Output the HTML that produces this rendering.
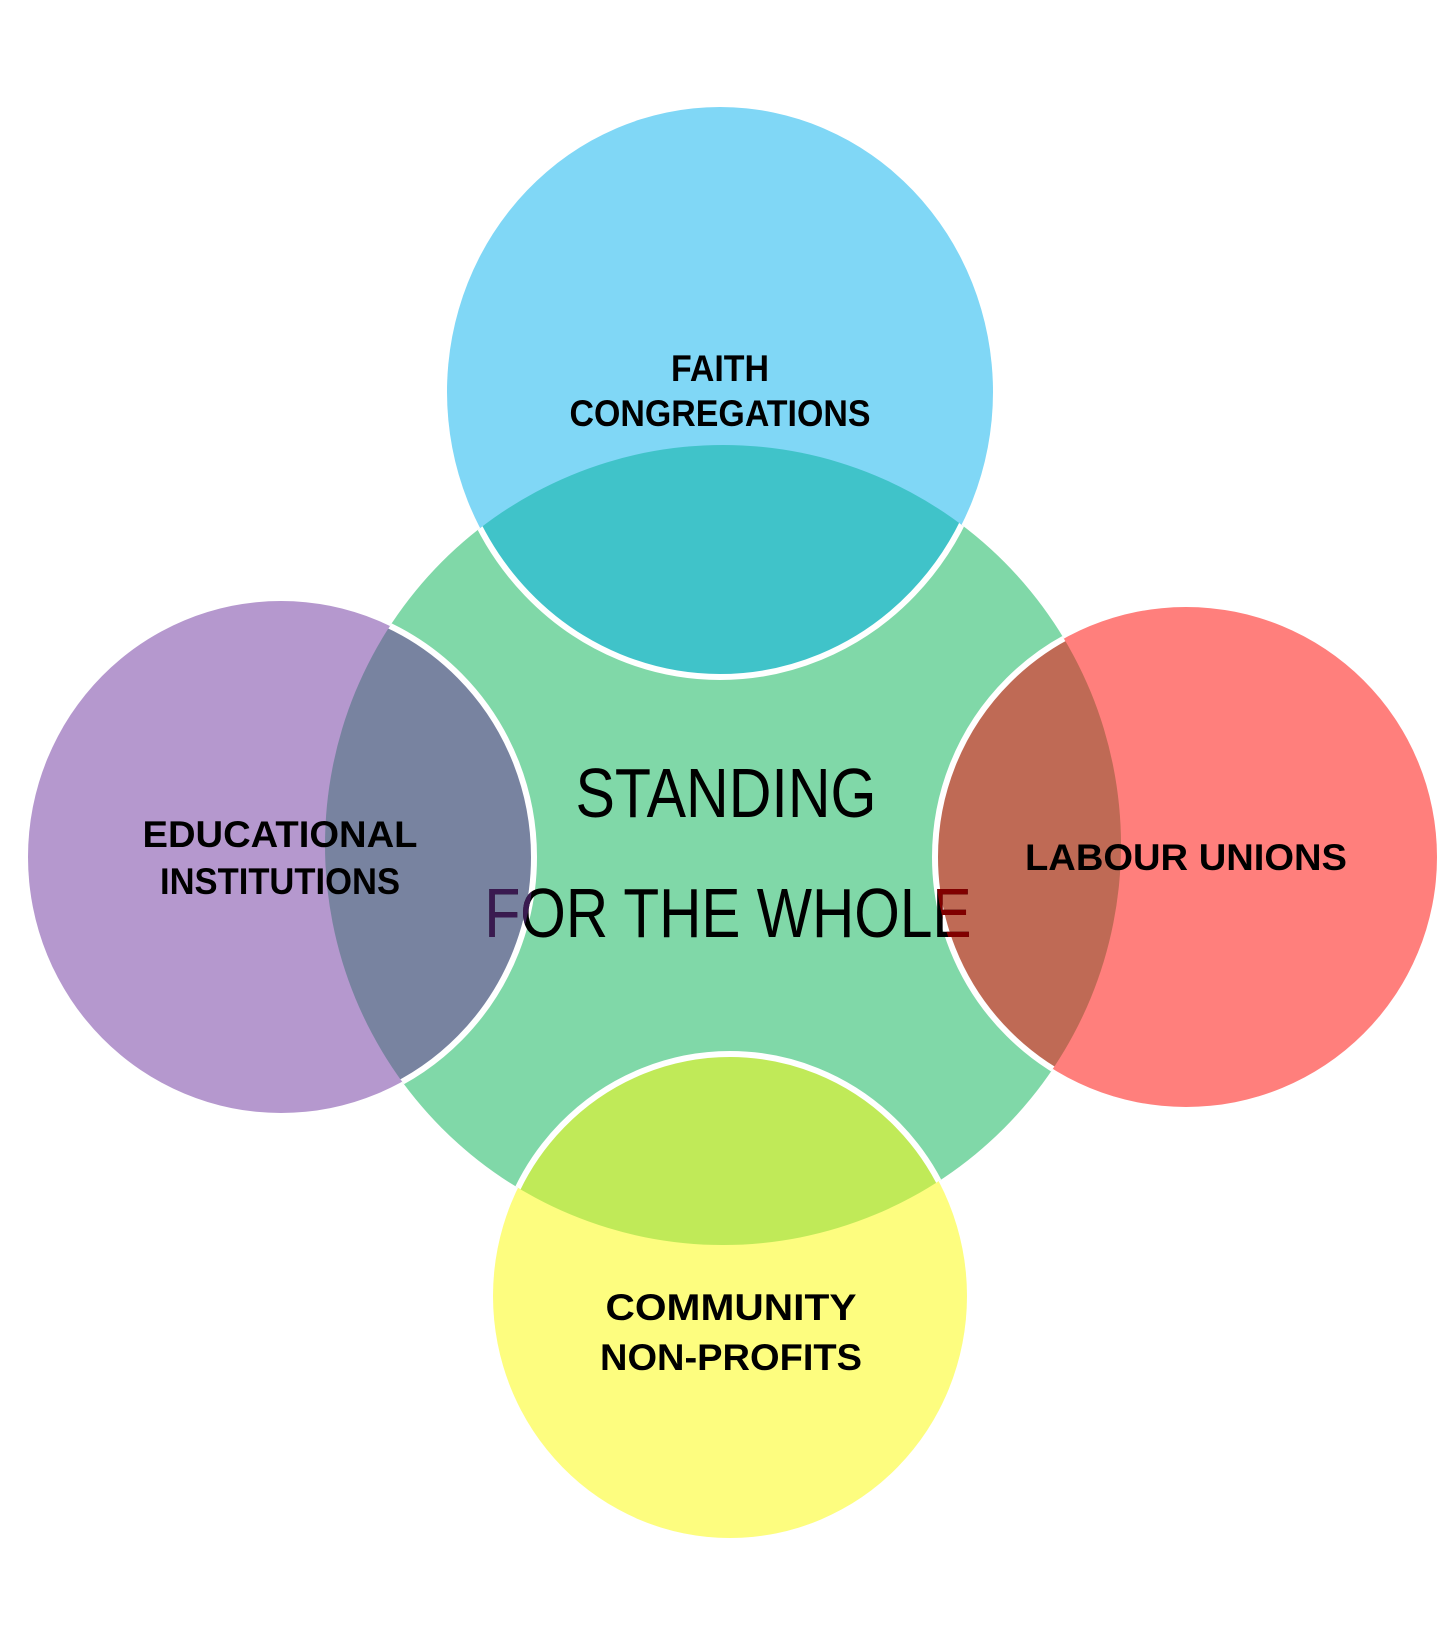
<!DOCTYPE html>
<html><head><meta charset="utf-8"><style>html,body{margin:0;padding:0;background:#fff}svg{display:block}</style></head>
<body>
<svg width="1456" height="1648" viewBox="0 0 1456 1648" xmlns="http://www.w3.org/2000/svg">
<defs>
<clipPath id="cg"><ellipse cx="723" cy="845" rx="398" ry="400"/></clipPath>
<clipPath id="cl"><ellipse cx="281" cy="857" rx="253" ry="256"/></clipPath>
<clipPath id="cr"><ellipse cx="1186" cy="857" rx="251" ry="250"/></clipPath>
</defs>
<ellipse cx="723" cy="845" rx="398" ry="400" fill="#80d8a8"/>
<ellipse cx="720" cy="392" rx="273" ry="285" fill="#80d7f6"/>
<ellipse cx="281" cy="857" rx="253" ry="256" fill="#b598ce"/>
<ellipse cx="1186" cy="857" rx="251" ry="250" fill="#ff7f7c"/>
<ellipse cx="730" cy="1296" rx="237" ry="242" fill="#fdfd7f"/>
<g clip-path="url(#cg)">
<ellipse cx="720" cy="392" rx="273" ry="285" fill="#40c3c9" stroke="#fff" stroke-width="6"/>
<ellipse cx="281" cy="857" rx="253" ry="256" fill="#7883a0" stroke="#fff" stroke-width="6"/>
<ellipse cx="1186" cy="857" rx="251" ry="250" fill="#bf6a55" stroke="#fff" stroke-width="6"/>
<ellipse cx="730" cy="1296" rx="237" ry="242" fill="#c0ea58" stroke="#fff" stroke-width="6"/>
</g>
<g font-family="Liberation Sans, sans-serif" text-anchor="middle">
<g font-size="70">
<text x="726" y="817" textLength="301" lengthAdjust="spacingAndGlyphs" fill="#000">STANDING</text>
<text x="728" y="937" textLength="487" lengthAdjust="spacingAndGlyphs" fill="#000">FOR THE WHOLE</text>
<text x="728" y="937" textLength="487" lengthAdjust="spacingAndGlyphs" fill="#3a1a50" clip-path="url(#cl)">FOR THE WHOLE</text>
<text x="728" y="937" textLength="487" lengthAdjust="spacingAndGlyphs" fill="#800000" clip-path="url(#cr)">FOR THE WHOLE</text>
</g>
<g font-size="37" font-weight="bold" fill="#000">
<text x="720" y="381" textLength="98" lengthAdjust="spacingAndGlyphs">FAITH</text>
<text x="720" y="426" textLength="301" lengthAdjust="spacingAndGlyphs">CONGREGATIONS</text>
<text x="280" y="847" textLength="275" lengthAdjust="spacingAndGlyphs">EDUCATIONAL</text>
<text x="280" y="894" textLength="240" lengthAdjust="spacingAndGlyphs">INSTITUTIONS</text>
<text x="1186" y="870" textLength="322" lengthAdjust="spacingAndGlyphs">LABOUR UNIONS</text>
<text x="731" y="1320" textLength="251" lengthAdjust="spacingAndGlyphs">COMMUNITY</text>
<text x="731" y="1370" textLength="262" lengthAdjust="spacingAndGlyphs">NON-PROFITS</text>
</g>
</g>
</svg>
</body></html>
